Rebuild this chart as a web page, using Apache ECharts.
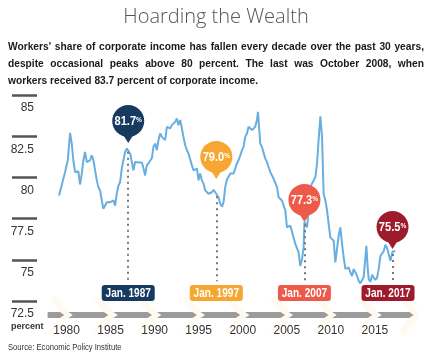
<!DOCTYPE html>
<html><head><meta charset="utf-8">
<script src="https://cdn.jsdelivr.net/npm/echarts@6/dist/echarts.min.js"></script>
<style>html,body{margin:0;padding:0;background:#fff}#c{width:432px;height:360px}</style>
</head><body><div id="c"></div>
<script>
// ---- data ----
const years = [1979.15,1979.83,1980.14,1980.40,1980.59,1980.77,1980.97,1981.16,1981.34,1981.53,
1981.73,1981.91,1982.10,1982.30,1982.48,1982.67,1982.86,1983.05,1983.24,1983.43,
1983.61,1983.81,1984.00,1984.18,1984.38,1984.57,1984.75,1984.94,1985.14,1985.32,
1985.51,1985.70,1985.89,1986.08,1986.27,1986.45,1986.65,1986.84,1987.00,1987.22,
1987.41,1987.59,1987.78,1987.98,1988.16,1988.35,1988.55,1988.73,1988.92,1989.11,
1989.30,1989.49,1989.68,1989.86,1990.06,1990.25,1990.43,1990.63,1990.82,1991.00,
1991.19,1991.39,1991.57,1991.76,1991.95,1992.14,1992.33,1992.52,1992.70,1992.90,
1993.09,1993.27,1993.47,1993.66,1993.84,1994.03,1994.23,1994.41,1994.60,1994.80,
1994.98,1995.17,1995.36,1995.55,1995.74,1995.93,1996.11,1996.31,1996.50,1996.68,
1996.88,1997.00,1997.25,1997.44,1997.64,1997.82,1998.01,1998.20,1998.39,1998.58,
1998.77,1998.95,1999.15,1999.34,1999.52,1999.72,1999.91,2000.09,2000.28,2000.48,
2000.66,2000.85,2001.05,2001.23,2001.42,2001.61,2001.73,2001.88,2001.99,2002.18,
2002.36,2002.56,2002.75,2002.93,2003.13,2003.32,2003.50,2003.69,2003.89,2004.07,
2004.26,2004.45,2004.64,2004.83,2005.02,2005.20,2005.40,2005.59,2005.77,2005.97,
2006.16,2006.34,2006.53,2006.73,2006.91,2007.00,2007.30,2007.48,2007.67,2007.86,
2008.05,2008.24,2008.43,2008.61,2008.81,2009.00,2009.18,2009.38,2009.57,2009.75,
2009.94,2010.14,2010.32,2010.51,2010.70,2010.89,2011.08,2011.27,2011.45,2011.65,
2011.84,2012.02,2012.22,2012.41,2012.59,2012.78,2012.98,2013.16,2013.35,2013.55,
2013.73,2013.92,2014.03,2014.18,2014.30,2014.49,2014.68,2014.86,2015.06,2015.25,
2015.43,2015.63,2015.82,2016.00,2016.19,2016.39,2016.57,2016.76,2017.00,2017.14,
2017.33];
const shares = [78.90,80.32,81.04,82.70,82.05,81.04,80.32,80.23,80.37,79.57,
80.23,81.04,81.54,80.93,80.93,81.04,81.34,81.04,80.43,79.82,
79.41,79.21,78.60,78.09,78.29,78.49,78.40,78.49,78.43,78.60,
78.29,79.01,79.51,79.71,80.53,81.04,81.54,81.75,81.70,81.45,
80.93,80.43,80.93,80.93,80.91,80.93,80.91,80.55,80.12,80.73,
80.87,80.85,81.16,81.85,82.05,81.65,82.26,82.66,82.46,82.46,
82.26,83.07,83.07,82.97,83.17,83.07,83.37,83.58,83.17,83.48,
82.97,82.46,81.95,81.65,81.45,81.34,80.73,80.43,80.53,80.53,
79.82,80.23,79.82,79.62,79.21,79.10,79.01,79.01,79.10,79.25,
79.10,79.00,78.80,78.40,78.23,78.49,79.41,79.86,79.82,80.23,
80.32,80.23,80.53,80.84,81.04,81.34,81.65,81.85,82.46,82.66,
83.07,82.97,82.87,82.76,83.07,83.48,83.98,82.87,82.05,81.85,
81.75,81.14,80.93,80.63,80.32,80.12,79.92,79.92,79.41,78.80,
78.70,78.60,78.49,77.99,76.97,76.87,77.07,76.97,76.36,75.96,
75.85,75.45,74.63,75.04,75.75,77.30,76.97,77.99,79.41,79.62,
79.82,80.02,80.84,82.26,83.70,82.46,79.01,78.60,77.99,77.18,
76.36,76.46,76.16,74.84,74.84,76.46,76.97,75.96,75.18,74.45,
74.51,74.53,74.23,74.02,74.45,74.57,74.02,73.72,73.57,73.52,
73.96,75.14,75.85,74.53,73.82,73.66,74.09,73.92,73.78,73.92,
74.45,75.24,75.24,75.52,75.91,75.70,75.67,74.94,75.50,75.45,
75.52];
const markerYears = [1987, 1997, 2007, 2017];
const markerValues = [81.7, 79.0, 77.3, 75.5];
const markerLabels = ['Jan. 1987', 'Jan. 1997', 'Jan. 2007', 'Jan. 2017'];
const markerColors = ['#173b60', '#f6a631', '#ee5a4a', '#9e1b2b'];
const yMin = 72.5, yMax = 85, yStep = 2.5;
const xMin = 1975, xMax = 2020, xStep = 5;
const bandStarts = [1977.85, 1980.2, 1985.3, 1990.25, 1995.2, 2000.25, 2005.2, 2010.15, 2015.25];
const bandEnds   = [1979.75, 1984.75, 1989.7, 1994.8, 1999.72, 2004.8, 2009.75, 2014.7, 2019.4];

const titleText = 'Hoarding the Wealth';
const subLines = [
  "Workers' share of corporate income has fallen every decade over the past 30 years,",
  "despite occasional peaks above 80 percent. The last was October 2008, when",
  "workers received 83.7 percent of corporate income."
];
const sourceText = 'Source: Economic Policy Institute';

// ---- styling ----
const plain = '"Liberation Sans",Arial,sans-serif';

// justified, horizontally condensed subtitle
const mctx = document.createElement('canvas').getContext('2d');
function tw(t, f){ mctx.font = f; return mctx.measureText(t).width; }
const subFont = `bold 11.5px ${plain}`;
let sx = 250 / tw(subLines[2], subFont);
const w1 = tw(subLines[0], subFont) * sx;
if (w1 > 412) sx = sx * 412 / w1;
const graphics = [];
const lineY = [47, 64.3, 81];
subLines.forEach((ln, li) => {
  const words = ln.split(' ');
  const ws = words.map(w => tw(w, subFont) * sx);
  const tot = ws.reduce((a,b)=>a+b,0);
  const gap = li < 2 ? (416 - tot) / (words.length - 1) : tw(' ', subFont) * sx;
  let x = 8;
  words.forEach((w, i) => {
    graphics.push({type:'text', x: x, y: lineY[li], scaleX: sx,
      style:{text:w, font:subFont, fill:'#1a1a1a', verticalAlign:'middle'}});
    x += ws[i] + gap;
  });
});
graphics.push({type:'text', x:216, y:17, style:{text:titleText, font:'300 20px "Open Sans",Lato,sans-serif', fill:'#555', align:'center', verticalAlign:'middle'}});
graphics.push({type:'text', x:11, y:327, style:{text:'percent', font:`bold 9px ${plain}`, fill:'#333', verticalAlign:'middle'}});
graphics.push({type:'text', x:8, y:348, scaleX:0.9, style:{text:sourceText, font:`8.5px ${plain}`, fill:'#333', verticalAlign:'middle'}});

const pinOffsets = [-28.4, -37, -22, -24.6];
const boxOffsets = [0, 0, 0, -4.5];

const chart = echarts.init(document.getElementById('c'), null, {renderer:'canvas'});
chart.setOption({
  animation: false,
  backgroundColor: '#fff',
  graphic: graphics,
  grid: {left: 22.5, right: 13.05, top: 95, bottom: 59, containLabel: false},
  xAxis: {
    type: 'value', min: xMin, max: xMax, interval: xStep, z: 5,
    axisLine: {show:false}, axisTick: {show:false}, splitLine: {show:false},
    axisLabel: {margin: 24, fontSize: 12, color: '#333', fontFamily: plain,
      formatter: v => (v === xMin || v === xMax) ? '' : String(v)}
  },
  yAxis: {
    type: 'value', min: yMin, max: yMax, interval: yStep, offset: -14.5,
    axisLine: {show:false}, splitLine: {show:false},
    axisTick: {show:true, length: 25, lineStyle: {color:'#555', width: 2.5}},
    axisLabel: {margin: 3, fontSize: 12, color: '#333', fontFamily: plain,
      verticalAlign: 'top', padding: [7,0,0,0]}
  },
  series: [
    { // chevron band (faint cream backdrop)
      type: 'custom', z: -1, silent: true, clip: false,
      data: bandEnds.map((e) => [e]),
      renderItem: (params, api) => {
        const p = api.coord([api.value(0), yMin]);
        const yc = p[1] + 14;
        return {type:'polyline', shape:{points:[[p[0]-12, yc-18],[p[0]+2, yc],[p[0]-12, yc+18]]},
          style:{stroke:'#fffaf0', lineWidth:7, fill:null}};
      }
    },
    { // chevron band (gray arrows)
      type: 'custom', z: 2, silent: true, clip: false,
      data: bandStarts.map((s, i) => [s, bandEnds[i], i]),
      renderItem: (params, api) => {
        const s = api.coord([api.value(0), yMin]);
        const e = api.coord([api.value(1), yMin]);
        const yc = s[1] + 14, h = 2.9, a = 4.5;
        const notch = api.value(2) > 0 ? a : 0;
        return {type:'polygon', shape:{points:[[s[0], yc-h],[e[0]-a, yc-h],[e[0], yc],[e[0]-a, yc+h],[s[0], yc+h],[s[0]+notch, yc]]},
          style:{fill:'#9b9b9b'}};
      }
    },
    { // dotted drop lines
      type: 'line', data: [], z: 2, silent: true,
      markLine: {
        silent: true, symbol: ['none','none'], label: {show:false},
        lineStyle: {color:'#777', width: 2, type: [2, 4]},
        data: markerYears.map((y, i) => [{coord:[y, markerValues[i] - 0.15]}, {coord:[y, 73.7]}])
      }
    },
    {
      name: "Workers' share", type: 'line', z: 3,
      data: years.map((y, i) => [y, shares[i]]),
      showSymbol: false, symbol: 'none',
      lineStyle: {color:'#68aee0', width: 2}
    },
    { // date boxes
      type: 'custom', z: 4, silent: true, clip: false,
      data: markerYears.map((y) => [y, yMin]),
      renderItem: (params, api) => {
        const i = params.dataIndex;
        const p = api.coord([api.value(0), api.value(1)]);
        const cx = p[0] + boxOffsets[i], top = p[1] - 16;
        return {type:'group', children:[
          {type:'rect', shape:{x:cx-26.5, y:top, width:53, height:16, r:3}, style:{fill:markerColors[i]}},
          {type:'text', x:cx, y:top+8.5, scaleX:0.84,
            style:{text:markerLabels[i], fill:'#fff', font:`bold 12px ${plain}`, align:'center', verticalAlign:'middle'}}
        ]};
      }
    },
    { // pins
      type: 'custom', z: 5, silent: true, clip: false,
      data: markerYears.map((y, i) => [y, markerValues[i]]),
      renderItem: (params, api) => {
        const i = params.dataIndex;
        const p = api.coord([api.value(0), api.value(1)]);
        const cx = p[0], cy = p[1] + pinOffsets[i];
        const col = markerColors[i];
        return {type:'group', children:[
          {type:'circle', shape:{cx:cx, cy:cy, r:16}, style:{fill:col}},
          {type:'polygon', shape:{points:[[cx-5, cy+14],[cx+5, cy+14],[cx, cy+22]]}, style:{fill:col}},
          {type:'text', x:cx, y:cy+0.5, scaleX:0.82,
            style:{text:`{n|${api.value(1).toFixed(1)}}{p|%}`, align:'center', verticalAlign:'middle',
              rich:{n:{fill:'#fff', font:`bold 13.5px ${plain}`},
                    p:{fill:'#fff', font:`bold 8px ${plain}`, padding:[0,0,4,0]}}}}
        ]};
      }
    }
  ]
});
</script></body></html>
